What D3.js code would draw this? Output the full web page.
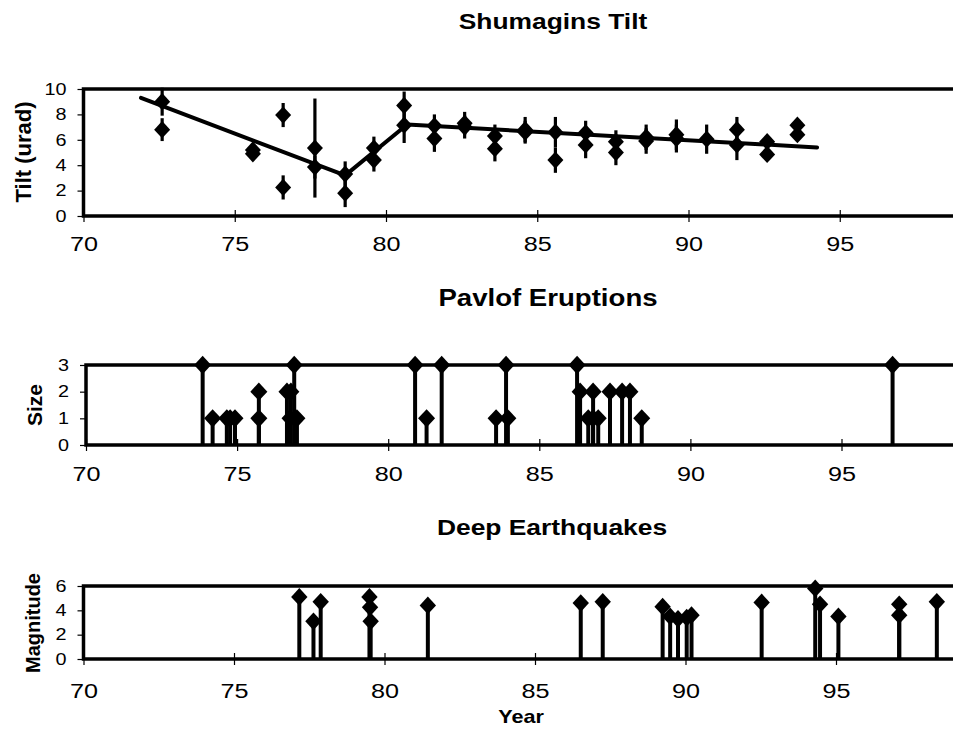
<!DOCTYPE html>
<html>
<head>
<meta charset="utf-8">
<script src="https://cdn.jsdelivr.net/npm/d3@7"></script>
<style>
  body { margin: 0; background: #fff; }
  svg { display: block; }
</style>
</head>
<body>
<script>
const xTicks = [70, 75, 80, 85, 90, 95]

// Shumagins tilt measurements (urad) with error half-widths
const tiltYears = [72.6, 72.6, 75.6, 75.6, 76.6, 76.6, 77.65, 77.65, 78.65, 78.65, 79.6, 79.6, 80.6, 80.6,
  81.6, 81.6, 82.6, 82.6, 83.6, 83.6, 84.6, 84.6, 85.6, 85.6, 86.6, 86.6, 87.6, 87.6, 88.6, 88.6,
  89.6, 89.6, 90.6, 91.6, 91.6, 92.6, 92.6, 93.6, 93.6]
const tiltValues = [9.0, 6.8, 5.2, 4.9, 7.95, 2.25, 5.35, 3.85, 3.3, 1.8, 5.35, 4.4, 8.7, 7.15,
  7.1, 6.1, 7.3, 7.0, 6.3, 5.3, 6.8, 6.6, 6.6, 4.4, 6.55, 5.6, 5.85, 5.0, 6.2, 5.9,
  6.4, 6.1, 6.05, 6.8, 5.6, 5.85, 4.85, 7.15, 6.4]
const tiltErrors = [1.1, 0.9, 0.5, 0.5, 0.95, 0.95, 3.9, 0.9, 1.0, 1.1, 0.9, 0.9, 1.1, 1.4,
  0.9, 1.05, 0.9, 0.9, 0.9, 1.0, 1.0, 0.9, 1.2, 1.0, 0.95, 1.05, 0.9, 1.0, 1.0, 1.0,
  1.2, 1.1, 1.15, 1.0, 1.2, 0.4, 0.4, 0.4, 0.4]
const trendYears = [71.9, 78.65, 80.7, 94.25]
const trendValues = [9.3, 3.2, 7.2, 5.4]
const tiltTicks = [0, 2, 4, 6, 8, 10]

// Pavlof eruptions
const eruptionYears = [73.86, 74.19, 74.66, 74.77, 74.93, 75.72, 75.72, 76.65, 76.75, 76.78, 76.89, 76.98,
  80.89, 81.27, 81.77, 83.57, 83.9, 83.96, 86.25, 86.35, 86.62, 86.78, 86.78, 86.95, 87.34, 87.74, 88.0, 88.39, 96.69]
const eruptionSizes = [3, 1, 1, 1, 1, 2, 1, 2, 1, 2, 3, 1,
  3, 1, 3, 1, 3, 1, 3, 2, 1, 2, 1, 1, 2, 2, 2, 1, 3]
const sizeTicks = [0, 1, 2, 3]

// Deep earthquakes
const quakeYears = [77.17, 77.64, 77.88, 79.5, 79.52, 79.54, 81.44, 86.52, 87.25, 89.24, 89.49, 89.75,
  90.04, 90.2, 92.53, 94.31, 94.47, 95.08, 97.1, 97.1, 98.35]
const quakeMagnitudes = [5.1, 3.1, 4.7, 5.1, 4.25, 3.1, 4.4, 4.6, 4.7, 4.3, 3.5, 3.3,
  3.4, 3.6, 4.65, 5.8, 4.5, 3.5, 4.5, 3.6, 4.7]
const magTicks = [0, 2, 4, 6]

const width = 953
const height = 732
const font = 'Liberation Sans, Arial, sans-serif'
const stretch = 1.2

// diamond slightly taller than wide, like the original markers
const diamond = {
  draw(context, size) {
    const r = Math.sqrt(size) / 2
    context.moveTo(0, -r * 1.08)
    context.lineTo(r, 0)
    context.lineTo(0, r * 1.08)
    context.lineTo(-r, 0)
    context.closePath()
  }
}

const svg = d3.select('body').append('svg')
  .attr('width', width)
  .attr('height', height)
  .attr('viewBox', [0, 0, width, height])

svg.append('rect').attr('width', width).attr('height', height).attr('fill', '#fff')

function title(text, cx, y, size) {
  svg.append('text')
    .attr('transform', `translate(${cx},${y}) scale(${stretch},1)`)
    .attr('text-anchor', 'middle')
    .attr('font-family', font)
    .attr('font-weight', 'bold')
    .attr('font-size', size)
    .text(text)
}

function yTitle(text, x, cy, size) {
  svg.append('text')
    .attr('transform', `translate(${x},${cy}) rotate(-90)`)
    .attr('text-anchor', 'middle')
    .attr('font-family', font)
    .attr('font-weight', 'bold')
    .attr('font-size', size)
    .text(text)
}

function panel({ x0, perYear, yDomain, yRange, yTicks, labelGap }) {
  const x = d3.scaleLinear().domain([70, 100]).range([x0, x0 + perYear * 30])
  const y = d3.scaleLinear().domain(yDomain).range(yRange)
  const g = svg.append('g')

  g.append('rect')
    .attr('x', x(70))
    .attr('y', y(yDomain[1]))
    .attr('width', x(100) - x(70))
    .attr('height', y(yDomain[0]) - y(yDomain[1]))
    .attr('fill', 'none')
    .attr('stroke', '#000')
    .attr('stroke-width', 3.5)

  g.append('g')
    .attr('transform', `translate(0,${y(yDomain[0])})`)
    .call(d3.axisBottom(x).tickValues(xTicks).tickSize(6).tickFormat(d3.format('d')))
    .call(a => a.select('.domain').remove())
    .call(a => a.selectAll('line').attr('y1', -6).attr('stroke-width', 1.2))
    .call(a => a.selectAll('text')
      .attr('y', labelGap).attr('dy', '0.71em')
      .attr('transform', `scale(${stretch},1)`)
      .attr('font-family', font).attr('font-size', 21).attr('fill', '#000'))

  g.append('g')
    .attr('transform', `translate(${x(70)},0)`)
    .call(d3.axisLeft(y).tickValues(yTicks).tickSize(6).tickFormat(d3.format('d')))
    .call(a => a.select('.domain').remove())
    .call(a => a.selectAll('line').attr('stroke-width', 1.2))
    .call(a => a.selectAll('text')
      .attr('x', -17 / stretch)
      .attr('transform', `scale(${stretch},1)`)
      .attr('font-family', font).attr('font-size', 16.5).attr('fill', '#000'))

  return { x, y, g }
}

// Shumagins Tilt
{
  const { x, y, g } = panel({ x0: 83.5, perYear: 30.25, yDomain: [0, 10], yRange: [216, 89], yTicks: tiltTicks, labelGap: 20 })
  const idx = d3.range(tiltYears.length)

  g.append('g').selectAll('line')
    .data(idx)
    .join('line')
    .attr('x1', i => x(tiltYears[i]))
    .attr('x2', i => x(tiltYears[i]))
    .attr('y1', i => y(tiltValues[i] - tiltErrors[i]))
    .attr('y2', i => y(tiltValues[i] + tiltErrors[i]))
    .attr('stroke', '#000')
    .attr('stroke-width', 3.2)

  const line = d3.line().x(i => x(trendYears[i])).y(i => y(trendValues[i]))
  g.append('path')
    .attr('d', line(d3.range(trendYears.length)))
    .attr('fill', 'none')
    .attr('stroke', '#000')
    .attr('stroke-width', 4)
    .attr('stroke-linecap', 'round')
    .attr('stroke-linejoin', 'round')

  g.append('g').selectAll('path')
    .data(idx)
    .join('path')
    .attr('transform', i => `translate(${x(tiltYears[i])},${y(tiltValues[i])})`)
    .attr('d', d3.symbol().type(diamond).size(256))
    .attr('fill', '#000')
}

// Stem panels
function stems(g, x, y, years, values, r) {
  const idx = d3.range(years.length)
  g.append('g').selectAll('line')
    .data(idx)
    .join('line')
    .attr('x1', i => x(years[i]))
    .attr('x2', i => x(years[i]))
    .attr('y1', y(0))
    .attr('y2', i => y(values[i]))
    .attr('stroke', '#000')
    .attr('stroke-width', 4)

  g.append('g').selectAll('path')
    .data(idx)
    .join('path')
    .attr('transform', i => `translate(${x(years[i])},${y(values[i])})`)
    .attr('d', d3.symbol().type(diamond).size((2 * r) * (2 * r)))
    .attr('fill', '#000')
}

{
  const { x, y, g } = panel({ x0: 86, perYear: 30.22, yDomain: [0, 3], yRange: [445, 365], yTicks: sizeTicks, labelGap: 21 })
  stems(g, x, y, eruptionYears, eruptionSizes, 8.5)
}

{
  const { x, y, g } = panel({ x0: 83.5, perYear: 30.1, yDomain: [0, 6], yRange: [659, 586], yTicks: magTicks, labelGap: 24 })
  stems(g, x, y, quakeYears, quakeMagnitudes, 8.2)
}

title('Shumagins Tilt', 553, 29, 22)
title('Pavlof Eruptions', 548, 306, 23)
title('Deep Earthquakes', 552, 535, 22)
title('Year', 521, 723, 18)

yTitle('Tilt (urad)', 31, 152, 22)
yTitle('Size', 42, 405, 21)
yTitle('Magnitude', 40, 623, 20)
</script>
</body>
</html>
